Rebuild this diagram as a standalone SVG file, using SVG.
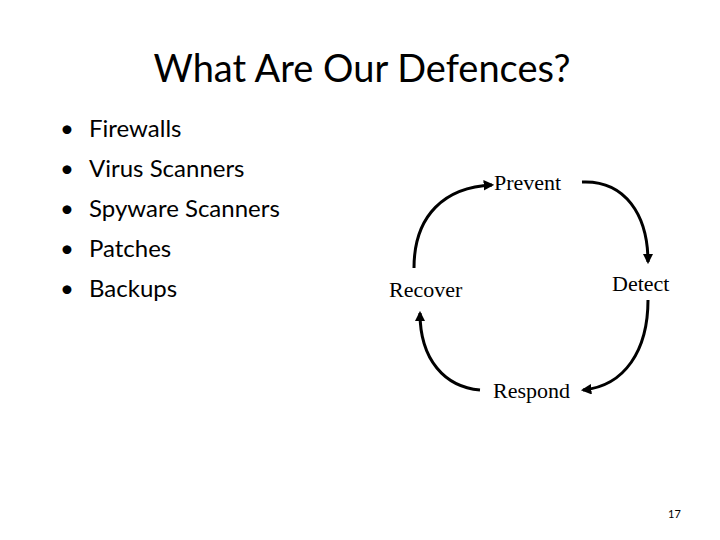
<svg xmlns="http://www.w3.org/2000/svg" width="720" height="540" viewBox="0 0 720 540">
<style>
.t{font-family:Lato,"Open Sans",sans-serif;fill:#000}
.s{font-family:"Liberation Serif",serif;font-size:22px;fill:#000}
.c{fill:none;stroke:#000;stroke-width:3}
</style>
<defs><marker id="a" viewBox="0 0 10 10" refX="8" refY="5" markerWidth="3.5" markerHeight="3.5" orient="auto"><path d="M0,0L10,5L0,10z" fill="#000"/></marker></defs>
<rect width="720" height="540" fill="#fff"/>
<text class="t" x="362" y="82" font-size="38" text-anchor="middle">What Are Our Defences?</text>
<g class="t" font-size="24">
<text x="60" y="137">•</text><text x="89" y="137">Firewalls</text>
<text x="60" y="177">•</text><text x="89" y="177">Virus Scanners</text>
<text x="60" y="217">•</text><text x="89" y="217">Spyware Scanners</text>
<text x="60" y="257">•</text><text x="89" y="257">Patches</text>
<text x="60" y="297">•</text><text x="89" y="297">Backups</text>
</g>
<g id="connectors">
<path class="c" marker-end="url(#a)" d="M414,268 C414,215 445,187 492,185"/>
<path class="c" marker-end="url(#a)" d="M582,182 C625,180 648,215 648,262"/>
<path class="c" marker-end="url(#a)" d="M648,300 C648,350 625,386 583,390"/>
<path class="c" marker-end="url(#a)" d="M480,390 C445,387 420,360 420,313"/>
</g>
<g id="prevent"><text class="s" x="494" y="190">Prevent</text></g>
<g id="detect"><text class="s" x="612" y="291">Detect</text></g>
<g id="respond"><text class="s" x="493" y="398">Respond</text></g>
<g id="recover"><text class="s" x="389" y="297">Recover</text></g>
<text class="t" x="668" y="518" font-size="11" fill="#444">17</text>
</svg>
